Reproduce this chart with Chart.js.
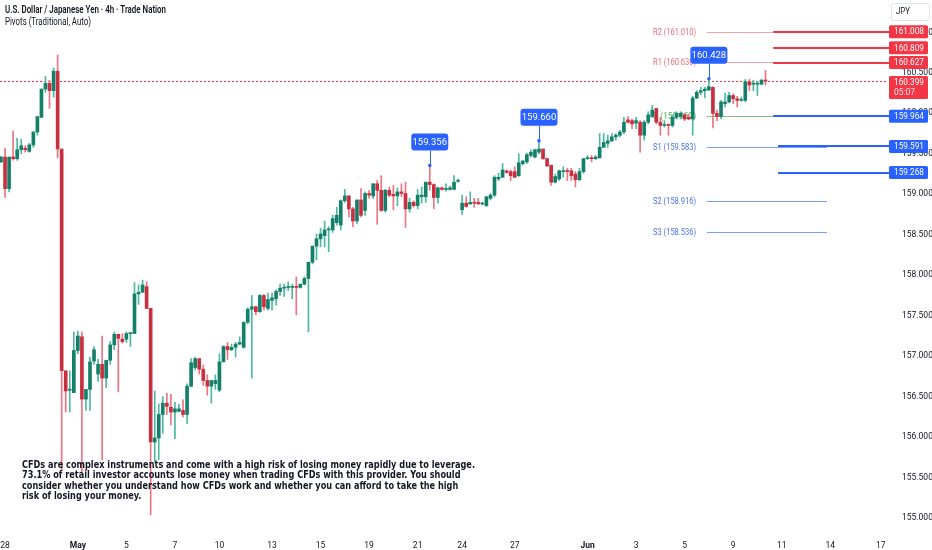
<!DOCTYPE html>
<html><head><meta charset="utf-8">
<script src="https://cdn.jsdelivr.net/npm/chart.js@4.4.1/dist/chart.umd.min.js"></script>
<style>html,body{margin:0;padding:0;background:#fff;overflow:hidden}#wrap{position:relative;width:932px;height:550px}canvas{display:block}</style>
</head><body><div id="wrap"><canvas id="c" width="932" height="550" style="width:932px;height:550px"></canvas></div>
<script>
// ---------- DATA ----------
const openP=[159.40,159.46,159.07,159.46,159.44,159.55,159.57,159.53,159.61,159.77,
159.95,160.30,160.37,160.28,160.52,159.56,156.82,156.58,156.55,157.07,
157.24,156.47,156.59,156.94,156.78,156.90,156.73,156.95,157.14,157.27,
157.21,157.21,157.28,157.28,157.77,157.79,157.86,157.59,155.94,155.99,
156.28,156.42,156.37,156.31,156.32,156.33,156.28,156.63,156.86,156.97,
156.84,156.70,156.63,156.66,156.58,156.93,157.12,157.08,157.11,157.15,
157.11,157.42,157.58,157.61,157.55,157.75,157.59,157.69,157.71,157.80,
157.84,157.85,157.85,157.86,157.85,157.89,157.96,158.16,158.36,158.45,
158.49,158.56,158.56,158.65,158.62,158.92,158.98,158.82,158.67,158.93,
158.80,159.01,158.98,159.13,159.05,158.80,159.05,159.00,158.98,159.03,
159.01,158.82,158.90,158.86,158.97,158.97,159.15,159.12,158.96,159.08,
159.06,159.06,159.06,159.16,158.81,158.89,158.88,158.90,158.90,158.88,
158.86,158.95,158.99,159.19,159.21,159.29,159.28,159.28,159.23,159.38,
159.40,159.48,159.46,159.52,159.56,159.44,159.36,159.15,159.19,159.28,
159.29,159.29,159.25,159.18,159.28,159.44,159.45,159.44,159.45,159.58,
159.63,159.66,159.71,159.73,159.77,159.92,159.91,159.88,159.89,159.73,
159.89,159.96,160.06,159.89,159.85,159.86,159.85,159.95,159.96,159.98,
159.95,159.93,160.19,160.26,160.28,160.29,160.32,160.00,159.96,160.12,
160.14,160.22,160.18,160.16,160.16,160.39,160.36,160.36,160.36,160.41];
const highP=[159.47,159.57,159.46,159.78,159.69,159.68,159.60,159.63,159.77,159.96,
160.30,160.46,160.41,160.56,160.72,159.56,156.82,156.82,157.30,157.31,
157.30,156.59,156.99,157.12,156.96,157.25,156.95,157.18,157.30,157.27,
157.28,157.30,157.29,157.91,157.88,157.94,157.92,157.59,156.57,156.41,
156.50,156.54,156.53,156.43,156.41,156.46,156.66,156.97,156.99,156.97,
156.89,156.77,156.70,156.77,157.03,157.13,157.17,157.15,157.17,157.24,
157.42,157.60,157.75,157.62,157.76,157.76,157.78,157.78,157.82,157.89,
157.89,157.92,157.89,157.98,157.89,157.98,158.16,158.36,158.51,158.58,
158.67,158.60,158.74,158.84,158.93,159.06,158.98,158.84,158.93,159.07,
159.03,159.05,159.13,159.17,159.23,159.06,159.09,159.11,159.08,159.13,
159.15,158.95,158.92,159.06,159.09,159.15,159.356,159.13,159.09,159.09,
159.13,159.10,159.23,159.19,158.99,158.97,159.03,158.95,158.95,158.90,
158.97,159.01,159.23,159.26,159.38,159.30,159.30,159.34,159.50,159.42,
159.51,159.55,159.56,159.66,159.56,159.45,159.36,159.25,159.30,159.34,
159.32,159.32,159.28,159.32,159.44,159.48,159.48,159.48,159.75,159.75,
159.73,159.75,159.75,159.79,159.95,159.96,159.93,159.95,159.91,159.91,
160.02,160.10,160.06,159.95,159.91,159.87,159.98,160.02,160.02,160.00,
159.99,160.21,160.28,160.32,160.32,160.428,160.33,160.04,160.16,160.25,
160.26,160.24,160.21,160.20,160.42,160.42,160.41,160.39,160.42,160.53];
const lowP=[159.39,158.96,159.03,159.42,159.42,159.50,159.52,159.52,159.58,159.73,
159.95,160.26,160.06,160.20,159.45,155.59,156.31,156.31,156.55,157.03,
155.57,156.33,156.33,156.90,156.69,155.72,156.61,156.90,157.08,156.56,
157.16,157.17,157.12,157.28,157.64,157.79,157.59,155.04,155.70,155.72,
156.05,156.28,156.15,155.98,156.31,156.25,156.17,156.62,156.83,156.78,
156.64,156.52,156.42,156.59,156.56,156.93,156.96,157.07,156.99,157.14,
157.10,157.40,156.73,157.51,157.54,157.57,157.57,157.57,157.63,157.75,
157.74,157.81,157.71,157.51,157.84,157.88,157.30,158.14,158.19,158.35,
158.35,158.29,158.53,158.62,158.56,158.90,158.72,158.60,158.64,158.72,
158.74,158.95,158.95,158.63,158.79,158.78,158.97,158.81,158.86,158.97,
158.59,158.78,158.84,158.82,158.89,158.90,159.05,158.82,158.89,159.05,
159.04,159.05,159.06,159.15,158.75,158.84,158.88,158.84,158.88,158.87,
158.85,158.93,158.97,159.17,159.21,159.26,159.17,159.21,159.22,159.36,
159.38,159.46,159.45,159.50,159.43,159.34,159.11,159.14,159.17,159.21,
159.17,159.17,159.09,159.17,159.26,159.43,159.40,159.43,159.45,159.58,
159.58,159.65,159.67,159.71,159.75,159.88,159.81,159.81,159.52,159.67,
159.87,159.95,159.87,159.73,159.83,159.73,159.83,159.93,159.93,159.91,
159.92,159.73,160.18,160.23,160.19,160.28,159.82,159.91,159.93,160.08,
160.13,160.12,160.08,160.15,160.14,160.28,160.28,160.22,160.35,160.35];
const closeP=[159.46,159.07,159.46,159.44,159.55,159.60,159.55,159.61,159.77,159.96,
160.30,160.37,160.28,160.52,159.56,156.82,156.57,156.59,157.07,157.25,
156.47,156.59,156.93,157.08,156.90,156.73,156.95,157.14,157.27,157.22,
157.18,157.28,157.28,157.77,157.79,157.88,157.59,155.94,155.99,156.28,
156.42,156.38,156.31,156.35,156.35,156.28,156.63,156.92,156.97,156.84,
156.70,156.63,156.70,156.70,156.93,157.12,157.08,157.11,157.15,157.17,
157.42,157.58,157.61,157.55,157.75,157.61,157.70,157.72,157.80,157.84,
157.85,157.86,157.86,157.85,157.89,157.96,158.16,158.36,158.45,158.51,
158.56,158.57,158.70,158.74,158.92,158.98,158.82,158.67,158.93,158.74,
159.01,158.99,159.13,159.05,158.80,159.05,158.99,158.98,159.03,159.01,
158.82,158.90,158.86,158.99,158.99,159.15,159.12,158.96,159.08,159.06,
159.07,159.08,159.15,159.17,158.89,158.85,158.90,158.89,158.88,158.89,
158.97,158.99,159.21,159.21,159.30,159.27,159.23,159.21,159.39,159.41,
159.49,159.52,159.55,159.56,159.44,159.35,159.15,159.22,159.29,159.29,
159.28,159.23,159.18,159.28,159.44,159.45,159.44,159.46,159.58,159.64,
159.66,159.71,159.73,159.77,159.89,159.89,159.87,159.91,159.73,159.89,
159.98,160.04,159.89,159.85,159.86,159.85,159.95,160.00,160.00,159.93,
159.93,160.19,160.26,160.28,160.30,160.33,160.00,159.96,160.14,160.14,
160.22,160.18,160.16,160.17,160.39,160.35,160.37,160.37,160.41,160.399];

// x tick positions are in candle-index units
const xTickPos=[1,19,31,43,54,67,79,91,103,114,127,145,157,169,181,193,205,217.5];
const xTickLabels=['28','May','5','7','10','13','15','19','21','24','27','Jun','3','5','9','11','14','17'];
const yTickValues=[155,155.5,156,156.5,157,157.5,158,158.5,159,159.5,160,160.5,161];

const pivotNames=['R2','R1','P','S1','S2','S3'];
const pivotValues=[161.010,160.630,159.962,159.583,158.916,158.536];
const levelValues=[161.008,160.809,160.627,159.964,159.591,159.268];
const levelSide=['up','up','up','down','down','down'];
const swingIdx=[106,133,175];
const swingVals=[159.356,159.660,160.428];
const lastPrice=160.399;
const countdown='05:07';
const currency='JPY';
const titleText='U.S. Dollar / Japanese Yen \u00b7 4h \u00b7 Trade Nation';
const indicatorText='Pivots (Traditional, Auto)';
const disclaimerLines=[
 'CFDs are complex instruments and come with a high risk of losing money rapidly due to leverage.',
 '73.1% of retail investor accounts lose money when trading CFDs with this provider. You should',
 'consider whether you understand how CFDs work and whether you can afford to take the high',
 'risk of losing your money.'
];

// ---------- STYLE ----------
const UP_BODY='#15806a', DN_BODY='#c8303f', UP_WICK='#4cb89f', DN_WICK='#ef7482';
const RED='#f23645', BLUE='#2962ff', TXT='#131722';
const FONT="Roboto, 'Noto Sans', sans-serif";
const isUp=i=>closeP[i]>=openP[i];
const idx=openP.map((_,i)=>i);

function rr(ctx,x,y,w,h,r){ctx.beginPath();ctx.moveTo(x+r,y);ctx.lineTo(x+w-r,y);ctx.quadraticCurveTo(x+w,y,x+w,y+r);ctx.lineTo(x+w,y+h-r);ctx.quadraticCurveTo(x+w,y+h,x+w-r,y+h);ctx.lineTo(x+r,y+h);ctx.quadraticCurveTo(x,y+h,x,y+h-r);ctx.lineTo(x,y+r);ctx.quadraticCurveTo(x,y,x+r,y);ctx.closePath();}
function fit(ctx,txt,x,y,w,font,color){ctx.save();ctx.font=font;const m=ctx.measureText(txt).width;const s=Math.min(1.2,w/m);ctx.translate(x,y);ctx.scale(s,1);ctx.fillStyle=color;ctx.textBaseline='middle';ctx.textAlign='left';ctx.fillText(txt,0,0);ctx.restore();}

const overlay={
 id:'overlay',
 beforeDatasetsDraw(chart){
  const {ctx,chartArea:a,scales:{x,y}}=chart;
  ctx.save();
  // current price dotted line
  const yl=Math.round(y.getPixelForValue(lastPrice))+0.5;
  ctx.strokeStyle=RED;ctx.lineWidth=1;ctx.setLineDash([2,2]);
  ctx.beginPath();ctx.moveTo(a.left,yl);ctx.lineTo(a.right,yl);ctx.stroke();
  ctx.setLineDash([]);
  // pivot lines & labels
  const x0=x.getPixelForValue(174.5), x1=x.getPixelForValue(204.2), xl=x.getPixelForValue(161.2);
  pivotNames.forEach((n,k)=>{
   const py=Math.round(y.getPixelForValue(pivotValues[k]))+0.5;
   const lc=n[0]==='R'?'#f5a3ab':(n==='P'?'#7cc47f':'#7e9ef6');
   const tc=n[0]==='R'?'#ee6b79':(n==='P'?'#4caf50':'#4a72ee');
   ctx.strokeStyle=lc;ctx.lineWidth=1;
   ctx.beginPath();ctx.moveTo(x0,py);ctx.lineTo(x1,py);ctx.stroke();
   fit(ctx,n+' ('+pivotValues[k].toFixed(3)+')',xl,py,43,'9px '+FONT,tc);
  });
  ctx.restore();
 },
 afterDatasetsDraw(chart){
  const {ctx,chartArea:a,scales:{x,y}}=chart;
  ctx.save();
  const starts=[190.9,190.9,190.9,190.9,192.1,192.1];
  levelValues.forEach((v,k)=>{
   const py=Math.round(y.getPixelForValue(v));
   ctx.strokeStyle=levelSide[k]==='up'?RED:BLUE;ctx.lineWidth=2;
   ctx.beginPath();ctx.moveTo(x.getPixelForValue(starts[k]),py);ctx.lineTo(a.right+1,py);ctx.stroke();
  });
  // swing high markers
  swingIdx.forEach((i,k)=>{
   const px=x.getPixelForValue(i), py=y.getPixelForValue(swingVals[k]);
   ctx.strokeStyle=BLUE;ctx.lineWidth=1;
   ctx.beginPath();ctx.moveTo(Math.round(px)+0.5,py);ctx.lineTo(Math.round(px)+0.5,py-15);ctx.stroke();
   ctx.fillStyle=BLUE;ctx.beginPath();ctx.arc(px,py,1.8,0,Math.PI*2);ctx.fill();
   rr(ctx,px-18.5,py-32,37,17,3);ctx.fill();
   ctx.fillStyle='#fff';ctx.font='9.5px '+FONT;ctx.textAlign='center';ctx.textBaseline='middle';
   ctx.fillText(swingVals[k].toFixed(3),px,py-23.3);
  });
  ctx.restore();
 },
 afterDraw(chart){
  const {ctx,chartArea:a,scales:{y}}=chart;
  ctx.save();
  const bx=a.right+1, bw=39;
  levelValues.forEach((v,k)=>{
   const py=y.getPixelForValue(v);
   ctx.fillStyle=levelSide[k]==='up'?RED:BLUE;
   rr(ctx,bx,py-6.5,bw,13,1.5);ctx.fill();
   fit(ctx,v.toFixed(3),bx+5,py+0.5,30,'9px '+FONT,'#fff');
  });
  // last price box
  const ly=y.getPixelForValue(lastPrice);
  ctx.fillStyle=RED;rr(ctx,bx,ly-5,bw,23,1.5);ctx.fill();
  fit(ctx,lastPrice.toFixed(3),bx+5,ly+1.5,30,'9px '+FONT,'#fff');
  fit(ctx,countdown,bx+5,ly+12,21,'9px '+FONT,'#ffe3e6');
  // currency box
  ctx.fillStyle='#fff';ctx.strokeStyle='#e0e3eb';ctx.lineWidth=1;
  rr(ctx,891.5,3.5,38,17,2);ctx.fill();ctx.stroke();
  fit(ctx,currency,896,12,14,'9px '+FONT,TXT);
  // titles
  fit(ctx,titleText,5,10,161,'600 10px '+FONT,TXT);
  fit(ctx,indicatorText,5,22,86,'10px '+FONT,TXT);
  // disclaimer
  ctx.font="bold 11px 'DejaVu Sans', sans-serif";
  const s=453/ctx.measureText(disclaimerLines[0]).width;
  const ys=[465,475.5,486,496.5];
  disclaimerLines.forEach((t,k)=>{
   ctx.save();ctx.translate(22,ys[k]);ctx.scale(s,1);
   ctx.fillStyle=TXT;ctx.textBaseline='middle';ctx.textAlign='left';
   ctx.font="bold 11px 'DejaVu Sans', sans-serif";ctx.fillText(t,0,0);ctx.restore();
  });
  ctx.restore();
 }
};

new Chart(document.getElementById('c'),{
 type:'bar',
 data:{datasets:[
  {label:'body',data:idx.map(i=>({x:i,y:[openP[i],closeP[i]]})),order:0,grouped:false,
   barThickness:3,minBarLength:1,borderWidth:0,borderSkipped:false,
   backgroundColor:c=>isUp(c.dataIndex)?UP_BODY:DN_BODY},
  {label:'wick',data:idx.map(i=>({x:i,y:[lowP[i],highP[i]]})),order:1,grouped:false,
   barThickness:1,borderWidth:0,
   backgroundColor:c=>isUp(c.dataIndex)?UP_WICK:DN_WICK}
 ]},
 options:{
  responsive:false,animation:false,events:[],devicePixelRatio:1,
  layout:{padding:0},
  plugins:{legend:{display:false},tooltip:{enabled:false}},
  scales:{
   x:{type:'linear',offset:false,min:-0.247,max:219.28,
      grid:{display:false},border:{display:false},
      afterBuildTicks:s=>{s.ticks=xTickPos.map(v=>({value:v}));},
      afterFit:s=>{s.height=22;s.paddingLeft=0;s.paddingRight=0;},
      ticks:{autoSkip:false,maxRotation:0,minRotation:0,padding:5,color:TXT,
        font:c=>({family:FONT,size:8.5,weight:isNaN(+xTickLabels[c.index])?'bold':'normal'}),
        callback:(v,i)=>xTickLabels[i]}},
   y:{position:'right',min:154.878,max:161.40,
      grid:{display:false},border:{display:false},
      afterBuildTicks:s=>{s.ticks=yTickValues.map(v=>({value:v}));},
      afterFit:s=>{s.width=44;s.paddingTop=0;s.paddingBottom=0;},
      ticks:{padding:6,color:TXT,font:{family:FONT,size:8.5},callback:v=>Number(v).toFixed(3)}}
  }
 },
 plugins:[overlay]
});
</script>
</body></html>
